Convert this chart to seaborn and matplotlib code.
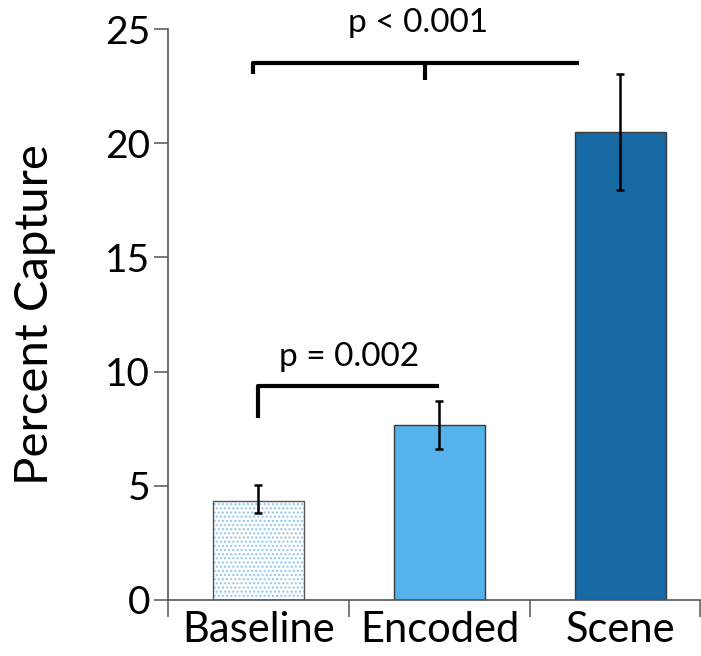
import matplotlib
matplotlib.use("Agg")
import matplotlib.pyplot as plt
import seaborn as sns
import pandas as pd
from matplotlib.patches import Rectangle

categories = ["Baseline", "Encoded", "Scene"]
values = [4.35, 7.65, 20.5]
err_low = [3.8, 6.6, 17.95]
err_high = [5.05, 8.7, 23.05]
colors = ["#ffffff", "#56b2ea", "#1769a3"]
yticks = [0, 5, 10, 15, 20, 25]

sns.set_theme(style="white")
plt.rcParams['font.family'] = ['Lato', 'DejaVu Sans']

fig = plt.figure(figsize=(7.01, 6.56), dpi=100)
ax = fig.add_axes([168/701, 1-600/656, (700-168)/701, (600-29)/656])

df = pd.DataFrame({"cat": categories, "val": values})
sns.barplot(data=df, x="cat", y="val", hue="cat", palette=colors, width=0.5, saturation=1,
            edgecolor="#3a3a3a", linewidth=1.0, legend=False, ax=ax, errorbar=None)

# hatch baseline
p0 = ax.patches[0]
p0.set_facecolor("white")
p0.set_edgecolor("#8cc6ee")
p0.set_hatch("....")
p0.set_linewidth(0)
ax.add_patch(Rectangle((p0.get_x(), p0.get_y()), p0.get_width(), p0.get_height(),
                       fill=False, edgecolor="#555555", linewidth=1.0, zorder=3))

xs = list(range(len(categories)))
ax.errorbar(xs, values,
            yerr=[[v - l for v, l in zip(values, err_low)], [h - v for v, h in zip(values, err_high)]],
            fmt="none", ecolor="black", elinewidth=1.8, capsize=3, capthick=1.8, zorder=4)

ax.set_xlim(-0.5, 2.44)
ax.set_ylim(0, 25)
ax.set_yticks(yticks)
ax.set_xticks(xs)
ax.set_xticklabels(categories)
ax.set_xticks([-0.5, 0.5, 1.5, 2.44], minor=True)
ax.tick_params(axis="x", which="major", length=0, pad=8, labelsize=30, labelcolor="black")
ax.tick_params(axis="x", which="minor", length=12, width=1.1, color="#555555", direction="out", bottom=True)
ax.tick_params(axis="y", length=10, width=1.1, color="#555555", labelsize=28, labelcolor="black", pad=3, left=True)
ax.set_xlabel("")
ax.set_ylabel("Percent Capture", fontsize=34, color="black", labelpad=35)
for s in ["top", "right"]:
    ax.spines[s].set_visible(False)
for s in ["left", "bottom"]:
    ax.spines[s].set_color("#555555")
    ax.spines[s].set_linewidth(1.2)

# significance brackets
ax.plot([0, 0, 1], [7.95, 9.35, 9.35], color="black", lw=3, solid_capstyle="butt", clip_on=False, zorder=5)
ax.text(0.5, 10.0, "p = 0.002", ha="center", va="bottom", fontsize=24, color="black")
ax.plot([-0.03, -0.03, 1.77], [23.05, 23.5, 23.5], color="black", lw=3, solid_capstyle="butt", clip_on=False, zorder=5)
ax.plot([0.92, 0.92], [23.5, 22.75], color="black", lw=3, solid_capstyle="butt", clip_on=False, zorder=5)
ax.text(0.88, 24.6, "p < 0.001", ha="center", va="bottom", fontsize=24, color="black", clip_on=False)

fig.savefig("out.png", dpi=100)
